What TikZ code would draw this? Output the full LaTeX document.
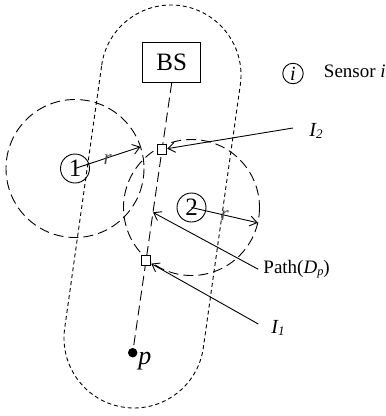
\documentclass[tikz,border=0pt]{standalone}
\usepackage{fontspec}
\setmainfont{Liberation Serif}
\usetikzlibrary{arrows.meta,calc}
\newcommand\lowidx[1]{\raisebox{-0.3ex}{\scalebox{0.65}{#1}}}
\newcommand\fsz[1]{\fontsize{#1}{#1}\selectfont}
\begin{document}
\begin{tikzpicture}[x=1pt,y=-1pt, line width=0.9pt,
  sensor/.style={circle,draw,line width=0.9pt,minimum size=29pt,inner sep=0pt,font=\fsz{25}},
  sensrange/.style={dash pattern=on 10pt off 5pt, line width=0.9pt},
  capsule/.style={dash pattern=on 4pt off 3pt, line width=0.9pt},
  pathline/.style={dash pattern=on 10pt off 5pt, line width=0.9pt},
  crosspt/.style={rectangle,draw,fill=white,minimum size=9.5pt,inner sep=0pt,line width=0.9pt},
  arr/.style={-{Straight Barb[length=7pt,width=10pt]}, line width=0.9pt},
  lbl/.style={anchor=base west,inner sep=0pt,font=\fsz{20}\itshape}
]
\useasboundingbox (0,0) rectangle (386,416);

% capsule
\coordinate (T) at (171,75);
\coordinate (B) at (134,338);
\draw[capsule] (T) ++(188:70) arc[start angle=188,end angle=368,radius=70]
  -- ++(-37,263) arc[start angle=8,end angle=188,radius=70] -- cycle;

% sensors and ranges
\node[sensor] (s1) at (75,168.5) {1};
\node[sensor] (s2) at (191.5,207.5) {2};
\draw[sensrange] (s1.center) circle[radius=69];
\draw[sensrange] (s2.center) circle[radius=68];

% BS and p
\node[draw,line width=1.2pt,minimum width=58pt,minimum height=39.5pt,inner sep=0pt,font=\fsz{25}] (bs) at (171.7,62.5) {BS};
\node[circle,fill,inner sep=0pt,minimum size=9.5pt] (pdot) at (132.7,352.7) {};
\node[lbl,font=\fsz{26}\itshape] (plab) at (138,364) {p};
\draw[pathline] (bs.south) -- (pdot);

% intersection points
\node[crosspt] (q2) at ($(bs.south)!0.247!(pdot)$) {};
\node[crosspt] (q1) at ($(bs.south)!0.659!(pdot)$) {};
\coordinate (pm) at ($(bs.south)!0.48!(pdot)$);

% labels and pointers
\node[lbl] (l2) at (309,136) {I\lowidx{2}};
\node[lbl] (l1) at (271,333) {I\lowidx{1}};
\node[lbl,font=\fsz{19}] (lp) at (263,273.3) {Path(\textit{D}\lowidx{\textit{p}})};
\coordinate (a2) at (293,128);
\coordinate (a1) at (258.3,324);
\coordinate (ap) at (258.3,269.3);
\draw[arr] (a2) -- (q2);
\draw[arr] (a1) -- (q1);
\draw[arr] (ap) -- (pm);

% radius arrows
\coordinate (r1e) at ($(s1.center)+(-18.3:69)$);
\coordinate (r2e) at ($(s2.center)+(13:68)$);
\draw[arr] (s1.center) -- (r1e) node[midway,yshift=-2pt,inner sep=0pt,font=\fsz{21}\itshape,text=black!70] (rl1) {r};
\draw[arr] (s2.center) -- (r2e) node[midway,inner sep=0pt,font=\fsz{21}\itshape,text=black!70] (rl2) {r};

% legend
\node[sensor,minimum size=20.5pt,font=\fsz{20}\itshape] (leg) at (293,73.5) {i};
\node[anchor=base west,inner sep=0pt,font=\fsz{19}] (legt) at (323.5,77.3) {Sensor \textit{i}};
\end{tikzpicture}
\end{document}
